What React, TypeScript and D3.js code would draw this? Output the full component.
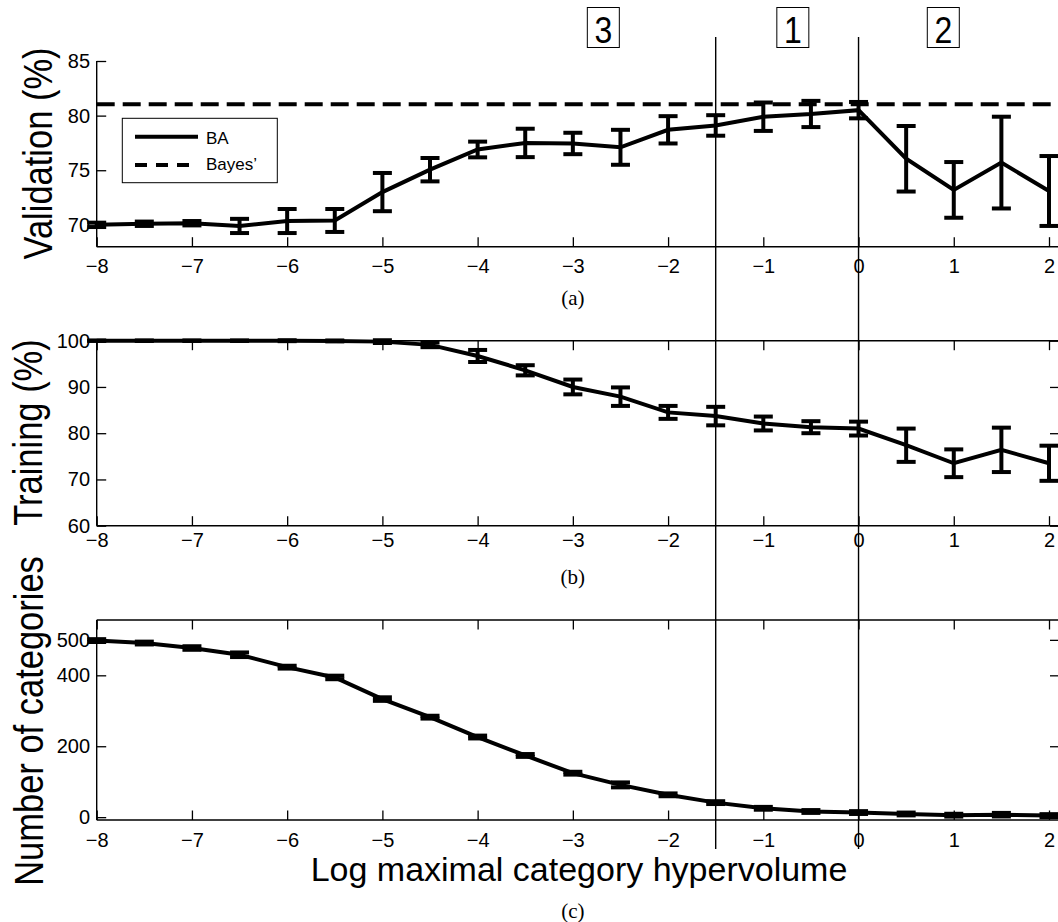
import React, { useEffect, useRef } from "react";
import * as d3 from "d3";

// log maximal category hypervolume (x)
const logVolume = [-8, -7.5, -7, -6.5, -6, -5.5, -5, -4.5, -4, -3.5, -3, -2.5, -2, -1.5, -1, -0.5, 0, 0.5, 1, 1.5, 2];

// (a) validation accuracy, %
const validationMean = [70.0, 70.1, 70.15, 69.9, 70.35, 70.4, 73.0, 75.05, 76.9, 77.5, 77.45, 77.1, 78.7, 79.1, 79.9, 80.15, 80.5, 76.05, 73.2, 75.7, 73.1];
const validationErr = [0.2, 0.2, 0.2, 0.65, 1.1, 1.05, 1.75, 1.07, 0.72, 1.3, 0.98, 1.6, 1.25, 0.94, 1.3, 1.2, 0.75, 3.0, 2.55, 4.2, 3.2];
const bayesRate = 81.05;

// (b) training accuracy, %
const trainingMean = [100, 100, 100, 100, 100, 99.95, 99.8, 99.1, 96.7, 93.6, 90.0, 87.9, 84.5, 83.7, 82.1, 81.3, 81.0, 77.4, 73.5, 76.4, 73.5];
const trainingErr = [0.05, 0.05, 0.05, 0.05, 0.1, 0.1, 0.3, 0.5, 1.3, 1.1, 1.6, 2.0, 1.4, 2.0, 1.5, 1.3, 1.5, 3.6, 3.0, 4.8, 3.8];

// (c) number of categories
const categoryMean = [498, 491, 477, 458, 423, 394, 333, 282, 226, 174, 124, 91, 63, 41, 25, 16, 13, 9, 5.6, 7, 4.5];
const categoryErr = [4, 4, 5, 6.5, 4, 5, 5, 4, 4, 4, 4, 7, 4, 4, 4, 4, 4, 4, 4, 5, 4];

// ticks
const xTicks = [-8, -7, -6, -5, -4, -3, -2, -1, 0, 1, 2];
const validationTicks = [70, 75, 80, 85];
const trainingTicks = [60, 70, 80, 90, 100];
const categoryTicks = [0, 200, 400, 500];

// region markers
const regionBounds = [-1.5, 0];
const regionLabels = ["3", "1", "2"];
const regionLabelAt = [-2.68, -0.69, 0.89];

const SANS = "'Liberation Sans', Arial, Helvetica, sans-serif";
const SERIF = "'Liberation Serif', 'Times New Roman', serif";

const App: React.FC = () => {
  const chartRef = useRef<SVGSVGElement | null>(null);

  useEffect(() => {
    const svg = d3.select(chartRef.current);
    svg.selectAll("*").remove();

    const x = d3.scaleLinear().domain([-8, 2]).range([96.7, 1049]);
    const xLeft = x(-8);
    const xRight = x(2.11);
    const tickLen = 9.5;

    const panels = [
      { key: "a", mean: validationMean, err: validationErr, domain: [68, 85], range: [246.7, 61], ticks: validationTicks, labelPad: 12.3, frame: false, title: "Validation (%)", titleX: 52, titleY: 153.5, caption: "(a)", captionY: 305 },
      { key: "b", mean: trainingMean, err: trainingErr, domain: [60, 100], range: [525.7, 340.7], ticks: trainingTicks, labelPad: 7.1, frame: true, title: "Training (%)", titleX: 42, titleY: 432.5, caption: "(b)", captionY: 584 },
      { key: "c", mean: categoryMean, err: categoryErr, domain: [-8, 556], range: [820, 620], ticks: categoryTicks, labelPad: 12.5, frame: true, title: "Number of categories", titleX: 43, titleY: 721, caption: "(c)", captionY: 918 },
    ];

    const styleAxis = (g: any) => {
      g.select(".domain").remove();
      g.selectAll("line").attr("stroke", "#000").attr("stroke-width", 1.3);
      g.selectAll("text").attr("fill", "#000").attr("font-family", SANS).attr("font-size", 20);
    };

    panels.forEach((p) => {
      const y = d3.scaleLinear().domain(p.domain).range(p.range);
      const yBottom = p.range[0];
      const yTop = p.range[1];
      const g = svg.append("g");

      // axes frame
      const frame = g.append("g").attr("stroke", "#000").attr("stroke-width", 1.4);
      frame.append("line").attr("x1", xLeft).attr("x2", xLeft).attr("y1", yTop).attr("y2", yBottom);
      frame.append("line").attr("x1", xLeft).attr("x2", xRight).attr("y1", yBottom).attr("y2", yBottom);
      if (p.frame) {
        frame.append("line").attr("x1", xLeft).attr("x2", xRight).attr("y1", yTop).attr("y2", yTop);
        frame.append("line").attr("x1", xRight).attr("x2", xRight).attr("y1", yTop).attr("y2", yBottom);
      }

      g.append("g")
        .attr("transform", `translate(0,${yBottom})`)
        .call(d3.axisBottom(x).tickValues(xTicks).tickSize(-tickLen).tickSizeOuter(0).tickPadding(p.labelPad).tickFormat(d3.format("d")))
        .call(styleAxis);

      g.append("g")
        .attr("transform", `translate(${xLeft},0)`)
        .call(d3.axisLeft(y).tickValues(p.ticks).tickSize(-tickLen).tickSizeOuter(0).tickPadding(6.7).tickFormat(d3.format("d")))
        .call(styleAxis);

      if (p.frame) {
        g.append("g")
          .attr("transform", `translate(0,${yTop})`)
          .call(d3.axisTop(x).tickValues(xTicks).tickSize(-tickLen).tickSizeOuter(0).tickFormat(() => ""))
          .call(styleAxis);
        g.append("g")
          .attr("transform", `translate(${xRight},0)`)
          .call(d3.axisRight(y).tickValues(p.ticks).tickSize(-tickLen).tickSizeOuter(0).tickFormat(() => ""))
          .call(styleAxis);
      }

      if (p.key === "a") {
        g.append("line")
          .attr("x1", xLeft)
          .attr("x2", xRight)
          .attr("y1", y(bayesRate))
          .attr("y2", y(bayesRate))
          .attr("stroke", "#000")
          .attr("stroke-width", 4)
          .attr("stroke-dasharray", "18 8");
      }

      // mean line
      const pts = logVolume.map((v, i) => ({ v, m: p.mean[i], e: p.err[i] }));
      g.append("path")
        .datum(pts)
        .attr("fill", "none")
        .attr("stroke", "#000")
        .attr("stroke-width", 4)
        .attr("d", d3.line<any>().x((d) => x(d.v)).y((d) => y(d.m)));

      // error bars
      const bars = g.append("g").attr("stroke", "#000").attr("stroke-width", 4);
      pts.forEach((d) => {
        const cx = x(d.v);
        const lo = y(d.m - d.e);
        const hi = y(d.m + d.e);
        bars.append("line").attr("x1", cx).attr("x2", cx).attr("y1", lo).attr("y2", hi);
        bars.append("line").attr("x1", cx - 9.5).attr("x2", cx + 9.5).attr("y1", lo).attr("y2", lo);
        bars.append("line").attr("x1", cx - 9.5).attr("x2", cx + 9.5).attr("y1", hi).attr("y2", hi);
      });

      // y title
      svg.append("text")
        .attr("transform", `translate(${p.titleX},${p.titleY}) rotate(-90) scale(1,1.18)`)
        .attr("text-anchor", "middle")
        .attr("font-family", SANS)
        .attr("font-size", 34.5)
        .attr("fill", "#000")
        .text(p.title);

      svg.append("text")
        .attr("x", x(-3))
        .attr("y", p.captionY)
        .attr("text-anchor", "middle")
        .attr("font-family", SERIF)
        .attr("font-size", 21)
        .attr("fill", "#000")
        .text(p.caption);
    });

    // x title
    svg.append("text")
      .attr("x", 579)
      .attr("y", 881)
      .attr("text-anchor", "middle")
      .attr("font-family", SANS)
      .attr("font-size", 34)
      .attr("fill", "#000")
      .text("Log maximal category hypervolume");

    // region boundaries
    regionBounds.forEach((b) => {
      svg.append("line")
        .attr("x1", x(b))
        .attr("x2", x(b))
        .attr("y1", 37)
        .attr("y2", 849)
        .attr("stroke", "#000")
        .attr("stroke-width", 1.4);
    });

    // region labels
    regionLabels.forEach((lab, i) => {
      const cx = x(regionLabelAt[i]);
      svg.append("rect")
        .attr("x", cx - 16)
        .attr("y", 7.5)
        .attr("width", 32)
        .attr("height", 40)
        .attr("fill", "#fff")
        .attr("stroke", "#000")
        .attr("stroke-width", 1);
      svg.append("text")
        .attr("transform", `translate(${cx},42.8) scale(1,1.15)`)
        .attr("text-anchor", "middle")
        .attr("font-family", SANS)
        .attr("font-size", 32)
        .attr("fill", "#000")
        .text(lab);
    });

    // legend
    const leg = svg.append("g");
    leg.append("rect")
      .attr("x", 122.3)
      .attr("y", 118.3)
      .attr("width", 155)
      .attr("height", 64.4)
      .attr("fill", "#fff")
      .attr("stroke", "#000")
      .attr("stroke-width", 1);
    leg.append("line").attr("x1", 135).attr("x2", 198).attr("y1", 136.7).attr("y2", 136.7)
      .attr("stroke", "#000").attr("stroke-width", 4);
    leg.append("line").attr("x1", 135).attr("x2", 198).attr("y1", 165).attr("y2", 165)
      .attr("stroke", "#000").attr("stroke-width", 4).attr("stroke-dasharray", "12 9");
    leg.append("text").attr("x", 206).attr("y", 144).attr("font-family", SANS).attr("font-size", 17).text("BA");
    leg.append("text").attr("x", 206).attr("y", 170).attr("font-family", SANS).attr("font-size", 17).text("Bayes\u2019");
  }, []);

  return (
    <svg
      ref={chartRef}
      width={1058}
      height={922}
      style={{ position: "absolute", left: 0, top: 0, background: "#fff" }}
    ></svg>
  );
};

export default App;
